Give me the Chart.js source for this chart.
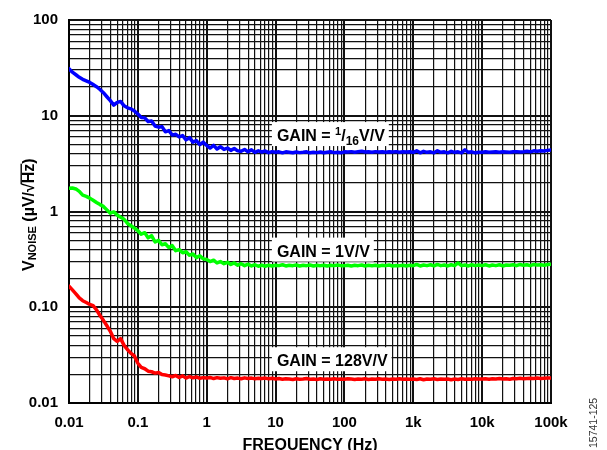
<!DOCTYPE html>
<html><head><meta charset="utf-8">
<script src="https://cdn.jsdelivr.net/npm/chart.js@4/dist/chart.umd.min.js"></script>
<style>html,body{margin:0;padding:0;background:#fff}#wrap{width:607px;height:450px;position:relative}</style>
</head><body><div id="wrap"><canvas id="c" width="607" height="450"></canvas></div>
<script>
// ---- data ----
const MANTISSA = [1,1.12,1.26,1.41,1.58,1.78,2,2.24,2.51,2.82,3.16,3.55,3.98,4.47,5.01,5.62,6.31,7.08,7.94,8.91];
const DECADES = [0.01,0.1,1,10,100,1000,10000];
const LAST_FREQ = 100000;

const GAIN_1_16 = [
  31,28.5,26.8,25.2,24.0,23.1,22.3,21.2,20.1,18.8,17.4,15.8,14.4,12.9,13.8,14.1,12.7,12.1,11.8,11.2,
  10.4,9.6,9.5,8.7,8.8,7.8,7.6,7.7,6.8,7.0,6.3,6.4,6.0,6.2,5.6,5.9,5.3,5.5,5.0,5.3,
  4.9,4.6,4.9,4.5,4.75,4.45,4.6,4.35,4.55,4.3,4.25,4.45,4.2,4.4,4.15,4.3,4.18,4.28,4.12,4.22,
  4.15,4.2,4.1,4.2,4.15,4.1,4.18,4.12,4.15,4.2,4.1,4.15,4.12,4.18,4.1,4.15,4.2,4.12,4.15,4.1,
  4.2,4.18,4.22,4.15,4.2,4.25,4.18,4.2,4.15,4.22,4.18,4.2,4.15,4.2,4.18,4.22,4.15,4.2,4.18,4.2,
  4.15,4.3,4.1,4.25,4.15,4.2,4.1,4.3,4.15,4.2,4.1,4.25,4.15,4.2,4.1,4.4,4.15,4.2,4.1,4.15,
  4.15,4.2,4.15,4.18,4.2,4.15,4.2,4.18,4.15,4.2,4.22,4.18,4.2,4.25,4.2,4.3,4.25,4.3,4.28,4.35,
  4.4
];
const GAIN_1 = [
  1.75,1.76,1.72,1.62,1.48,1.44,1.38,1.31,1.24,1.18,1.13,1.04,0.96,0.99,0.92,0.87,0.83,0.75,0.71,0.67,
  0.63,0.58,0.6,0.53,0.56,0.48,0.5,0.45,0.46,0.42,0.44,0.39,0.4,0.37,0.38,0.35,0.36,0.33,0.345,0.32,
  0.315,0.3,0.31,0.29,0.3,0.285,0.295,0.28,0.29,0.275,0.285,0.272,0.282,0.27,0.278,0.268,0.276,0.268,0.275,0.27,
  0.275,0.272,0.278,0.27,0.275,0.272,0.276,0.27,0.274,0.272,0.276,0.27,0.274,0.272,0.275,0.27,0.274,0.272,0.276,0.272,
  0.272,0.275,0.27,0.274,0.272,0.276,0.27,0.274,0.272,0.275,0.27,0.274,0.272,0.276,0.27,0.273,0.272,0.275,0.27,0.274,
  0.272,0.28,0.27,0.276,0.272,0.278,0.27,0.28,0.272,0.276,0.27,0.278,0.272,0.29,0.272,0.276,0.27,0.278,0.272,0.276,
  0.272,0.278,0.27,0.276,0.272,0.278,0.27,0.276,0.274,0.278,0.272,0.28,0.274,0.278,0.272,0.28,0.276,0.278,0.274,0.28,
  0.282
];
const GAIN_128 = [
  0.166,0.152,0.138,0.125,0.117,0.112,0.107,0.104,0.094,0.082,0.073,0.064,0.056,0.047,0.044,0.047,0.040,0.036,0.033,0.031,
  0.026,0.0235,0.0228,0.0215,0.0212,0.0205,0.0208,0.0198,0.0196,0.0192,0.0188,0.0194,0.0185,0.0192,0.0182,0.0189,0.0183,0.0187,0.0181,0.0184,
  0.0182,0.0185,0.018,0.0184,0.0181,0.0183,0.0179,0.0184,0.018,0.0182,0.0179,0.0183,0.018,0.0182,0.0179,0.0181,0.018,0.0182,0.0179,0.0181,
  0.0178,0.018,0.0177,0.0179,0.0178,0.0176,0.0179,0.0177,0.0178,0.018,0.0177,0.0178,0.0176,0.0179,0.0177,0.0178,0.0177,0.0179,0.0177,0.0178,
  0.0177,0.0179,0.0178,0.0176,0.0178,0.0177,0.0179,0.0176,0.0178,0.0177,0.0179,0.0177,0.0178,0.0176,0.0178,0.0177,0.0179,0.0177,0.0178,0.0177,
  0.0178,0.0176,0.0179,0.0175,0.0178,0.0177,0.0179,0.0176,0.0178,0.0177,0.0178,0.0175,0.0178,0.0176,0.0179,0.0177,0.0178,0.0177,0.0179,0.0178,
  0.0178,0.0179,0.0177,0.0179,0.0178,0.018,0.0178,0.0179,0.0177,0.018,0.0179,0.0181,0.0179,0.018,0.0181,0.018,0.0182,0.018,0.0181,0.0182,
  0.0182
];

const GRID_MANTISSA = [1,2,3,4,5,6,7,8,9];
const X_MAJOR = [0.01,0.1,1,10,100,1000,10000,100000];
const X_LABELS = ['0.01','0.1','1','10','100','1k','10k','100k'];
const Y_MAJOR = [0.01,0.1,1,10,100];
const Y_LABELS = ['0.01','0.10','1','10','100'];

const FREQ = DECADES.flatMap(d => MANTISSA.map(m => +(d*m).toPrecision(3))).concat([LAST_FREQ]);
const toPts = vals => FREQ.map((f,i) => ({x:f, y:vals[i]}));
const gridTicks = majors => majors.slice(0,-1).flatMap(d => GRID_MANTISSA.map(m => +(d*m).toPrecision(3))).concat([majors[majors.length-1]]);
const X_TICKS = gridTicks(X_MAJOR);
const Y_TICKS = gridTicks(Y_MAJOR);
const near = (a,b) => Math.abs(a-b) <= Math.abs(b)*1e-6;
const labelFor = (v, majors, labels) => { const i = majors.findIndex(m => near(v,m)); return i >= 0 ? labels[i] : ''; };
const isMajor = (v, majors) => majors.some(m => near(v,m));

const FONT = '"Liberation Sans", Arial, sans-serif';

const ANNOTATIONS = [
  {x:10.45, y:5.44, parts:[{t:'GAIN = ',s:16},{t:'1',s:11,dy:-6},{t:'/',s:16},{t:'16',s:12,dy:4},{t:'V/V',s:16}]},
  {x:10.45, y:0.338, parts:[{t:'GAIN = 1V/V',s:16}]},
  {x:10.45, y:0.0242, parts:[{t:'GAIN = 128V/V',s:16}]}
];

const textPlugin = {
  id:'texts',
  afterDatasetsDraw(chart){
    const ctx = chart.ctx, xs = chart.scales.x, ys = chart.scales.y;
    ctx.save();
    ctx.textBaseline = 'alphabetic';
    ctx.textAlign = 'left';
    ANNOTATIONS.forEach(a => {
      const px = xs.getPixelForValue(a.x), py = ys.getPixelForValue(a.y);
      let w = 0;
      a.parts.forEach(p => { ctx.font = 'bold ' + p.s + 'px ' + FONT; w += ctx.measureText(p.t).width; });
      ctx.fillStyle = '#fff';
      ctx.fillRect(px-5, py-19, w+9, 24);
      ctx.fillStyle = '#000';
      let cx = px;
      a.parts.forEach(p => { ctx.font = 'bold ' + p.s + 'px ' + FONT; ctx.fillText(p.t, cx, py + (p.dy||0)); cx += ctx.measureText(p.t).width; });
    });
    ctx.restore();
  },
  afterDraw(chart){
    const ctx = chart.ctx, area = chart.chartArea;
    ctx.save();
    ctx.fillStyle = '#000';
    ctx.textBaseline = 'alphabetic';
    ctx.font = 'bold 16px ' + FONT;
    ctx.textAlign = 'center';
    ctx.fillText('FREQUENCY (Hz)', (area.left+area.right)/2, 450);
    ctx.translate(34, 271);
    ctx.rotate(-Math.PI/2);
    ctx.textAlign = 'left';
    let cx = 0;
    ctx.font = 'bold 16px ' + FONT; ctx.fillText('V', cx, 0); cx += ctx.measureText('V').width;
    ctx.font = 'bold 11px ' + FONT; ctx.fillText('NOISE', cx, 2); cx += ctx.measureText('NOISE').width;
    ctx.font = 'bold 16px ' + FONT;
    const pre = ' (µV/√';
    ctx.fillText(pre, cx, 0); cx += ctx.measureText(pre).width;
    const hzW = ctx.measureText('Hz').width;
    ctx.fillText('Hz', cx, 0);
    ctx.fillRect(cx-1, -13.5, hzW+1, 1.4);
    cx += hzW;
    ctx.fillText(')', cx, 0);
    ctx.restore();
    ctx.save();
    ctx.fillStyle = '#333';
    ctx.font = '10.5px ' + FONT;
    ctx.translate(597, 448);
    ctx.rotate(-Math.PI/2);
    ctx.textAlign = 'left';
    ctx.fillText('15741-125', 0, 0);
    ctx.restore();
  }
};

new Chart(document.getElementById('c'), {
  type:'line',
  data:{datasets:[
    {label:'GAIN = 1/16V/V', data:toPts(GAIN_1_16), borderColor:'#0000ff', borderWidth:3.5},
    {label:'GAIN = 1V/V', data:toPts(GAIN_1), borderColor:'#00ff00', borderWidth:3.5},
    {label:'GAIN = 128V/V', data:toPts(GAIN_128), borderColor:'#ff0000', borderWidth:3.5}
  ]},
  options:{
    responsive:false, animation:false, devicePixelRatio:1,
    layout:{padding:{top:17,right:56,bottom:0,left:0}},
    elements:{point:{radius:0}, line:{tension:0, borderJoinStyle:'round', borderCapStyle:'round'}},
    plugins:{legend:{display:false}, tooltip:{enabled:false}},
    scales:{
      x:{type:'logarithmic', min:0.01, max:100000,
        afterBuildTicks: s => { s.ticks = X_TICKS.map(v => ({value:v})); },
        afterFit: s => { s.height = 47; },
        grid:{drawTicks:false, color:'#111', lineWidth: c => isMajor(c.tick.value, X_MAJOR) ? 2 : 1.2},
        border:{display:true, color:'#000', width:2},
        ticks:{autoSkip:false, maxRotation:0, minRotation:0, padding:11, color:'#000',
          font:{family:FONT, size:15, weight:'bold'},
          callback: v => labelFor(v, X_MAJOR, X_LABELS)}
      },
      y:{type:'logarithmic', min:0.01, max:100,
        afterBuildTicks: s => { s.ticks = Y_TICKS.map(v => ({value:v})); },
        afterFit: s => { s.width = 69; },
        grid:{drawTicks:false, color:'#111', lineWidth: c => isMajor(c.tick.value, Y_MAJOR) ? 2 : 1.2},
        border:{display:true, color:'#000', width:2},
        ticks:{autoSkip:false, padding:11, color:'#000',
          font:{family:FONT, size:15, weight:'bold'},
          callback: v => labelFor(v, Y_MAJOR, Y_LABELS)}
      }
    }
  },
  plugins:[textPlugin]
});
</script>
</body></html>
